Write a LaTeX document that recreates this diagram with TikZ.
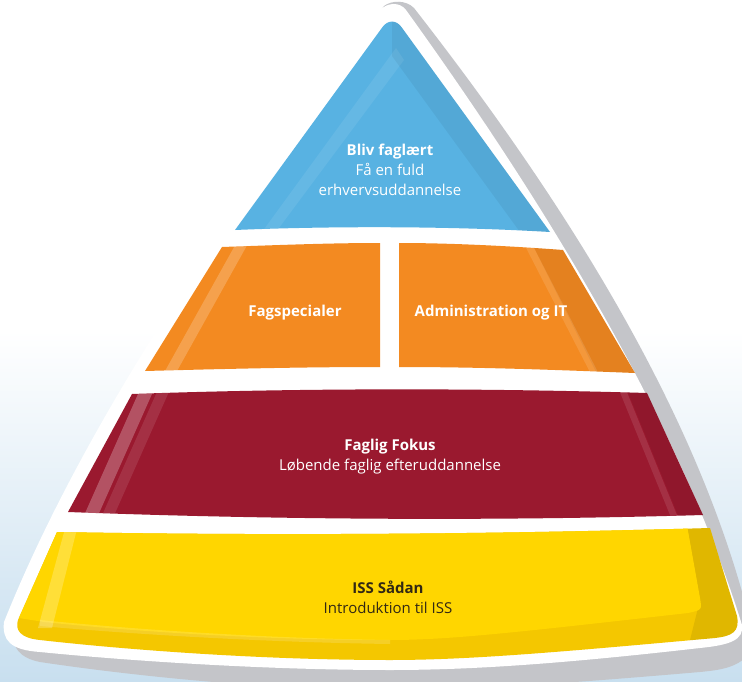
\documentclass[tikz,border=0pt]{standalone}
\usepackage{fontspec}
\setmainfont{Open Sans}
\definecolor{bgblue}{RGB}{200,223,239}
\definecolor{shadowgray}{RGB}{196,197,201}
\definecolor{tblue}{RGB}{88,178,226}
\definecolor{torange}{RGB}{243,138,33}
\definecolor{tred}{RGB}{154,25,47}
\definecolor{tyellow}{RGB}{255,214,0}
\definecolor{tyellowd}{RGB}{244,199,0}
\definecolor{ttext}{RGB}{50,40,20}
\begin{document}
\begin{tikzpicture}[x=1pt,y=-1pt,
  lbl/.style={align=center, font=\fontsize{15}{20}\selectfont, text=white, inner sep=0pt},
  lbldark/.style={lbl, text=ttext},
  shine/.style={white, opacity=0.2},
  shade dark/.style={black, opacity=0.06}]
\useasboundingbox (0,0) rectangle (742,682);
% background
\fill[white] (0,0) rectangle (742,682);
\shade[top color=white, bottom color=bgblue] (0,330) rectangle (742,682);
% gray shadow body
\fill[shadowgray] (384,6) .. controls (392,0) and (406,0) .. (414,8)
  .. controls (570,208) and (702,420) .. (752,630)
  -- (752,650) .. controls (740,668) and (720,670) .. (700,672)
  .. controls (560,684) and (470,690) .. (390,690)
  .. controls (260,690) and (120,674) .. (40,662)
  .. controls (20,658) and (12,648) .. (12,630)
  .. controls (92,425) and (238,212) .. (384,6) -- cycle;
% white body
\fill[white] (380,10) .. controls (388,2) and (400,2) .. (406,10)
  .. controls (550,210) and (680,425) .. (742,625)
  .. controls (744,640) and (730,645) .. (700,648)
  .. controls (560,664) and (470,670) .. (390,670)
  .. controls (260,670) and (120,660) .. (40,652)
  .. controls (10,650) and (2,640) .. (4,622)
  .. controls (84,422) and (230,210) .. (380,10) -- cycle;
% ---- blue top
\path[fill=tblue] (235,230) [rounded corners=16pt] -- (392,14) [sharp corners] -- (550,232)
  .. controls (450,226) and (330,226) .. (235,230) -- cycle;
\begin{scope}
 \clip (235,230) [rounded corners=16pt] -- (392,14) [sharp corners] -- (550,232)
  .. controls (450,226) and (330,226) .. (235,230) -- cycle;
 \fill[white, opacity=0.08] (262,232) -- (396,48) -- (404,60) -- (276,232) -- cycle;
 \fill[black, opacity=0.05] (392,0) -- (560,232) -- (520,232) -- (392,56) -- cycle;
\end{scope}
% ---- orange left
\fill[torange] (222,247) .. controls (280,245) and (330,243) .. (380,243)
  -- (380,367) .. controls (300,367) and (220,369) .. (145,371) -- cycle;
\begin{scope}
 \clip (222,247) .. controls (280,245) and (330,243) .. (380,243)
  -- (380,367) .. controls (300,367) and (220,369) .. (145,371) -- cycle;
 \fill[shine] (238,240) -- (250,240) -- (172,380) -- (160,380) -- cycle;
\end{scope}
% ---- orange right
\fill[torange] (399,243) .. controls (450,243) and (510,246) .. (563,250)
  -- (635,373) .. controls (560,370) and (480,367) .. (399,367) -- cycle;
\begin{scope}
 \clip (399,243) .. controls (450,243) and (510,246) .. (563,250)
  -- (635,373) .. controls (560,370) and (480,367) .. (399,367) -- cycle;
 \fill[shade dark] (530,240) -- (580,240) -- (660,380) -- (600,380) -- cycle;
 \fill[white, opacity=0.12] (522,240) -- (530,240) -- (602,380) -- (594,380) -- cycle;
\end{scope}
% ---- red
\fill[tred] (132,394) .. controls (300,388) and (480,388) .. (647,393)
  -- (703,515) .. controls (500,521) and (280,520) .. (68,512) -- cycle;
\begin{scope}
 \clip (132,394) .. controls (300,388) and (480,388) .. (647,393)
  -- (703,515) .. controls (500,521) and (280,520) .. (68,512) -- cycle;
 \fill[white, opacity=0.25] (142,385) -- (156,385) -- (96,520) -- (82,520) -- cycle;
 \fill[white, opacity=0.1] (160,385) -- (172,385) -- (112,520) -- (100,520) -- cycle;
 \fill[shade dark] (625,385) -- (660,385) -- (720,520) -- (680,520) -- cycle;
 \fill[white, opacity=0.1] (617,385) -- (624,385) -- (679,520) -- (672,520) -- cycle;
\end{scope}
% ---- yellow
\fill[tyellowd] (57,532) .. controls (280,536) and (500,534) .. (710,528)
  -- (737,616) .. controls (740,632) and (732,636) .. (715,638)
  .. controls (560,652) and (470,660) .. (390,660)
  .. controls (250,660) and (110,648) .. (40,640)
  .. controls (20,638) and (15,630) .. (18,620) -- cycle;
\begin{scope}
 \clip (57,532) .. controls (280,536) and (500,534) .. (710,528)
  -- (737,616) .. controls (740,632) and (732,636) .. (715,638)
  .. controls (560,652) and (470,660) .. (390,660)
  .. controls (250,660) and (110,648) .. (40,640)
  .. controls (20,638) and (15,630) .. (18,620) -- cycle;
 \fill[black, opacity=0.08] (686,520) -- (750,520) -- (750,650) -- (690,640) -- (700,600) -- cycle;
 \fill[tyellow] (40,520) -- (686,520) -- (700,598) .. controls (702,610) .. (688,613)
  .. controls (520,632) and (450,640) .. (390,640)
  .. controls (250,640) and (120,630) .. (44,622) -- (0,615) -- cycle;
 \fill[white, opacity=0.22] (66,525) -- (78,525) -- (52,628) -- (38,628) -- cycle;
 \fill[white, opacity=0.15] (40,620) .. controls (120,628) and (250,638) .. (390,640)
  -- (390,644) .. controls (250,642) and (120,633) .. (40,626) -- cycle;
\end{scope}
% ---- labels
\node[lbl] (tBlue) at (390,170) {\textbf{Bliv faglært}\\Få en fuld\\erhvervsuddannelse};
\node[lbl] (tFag) at (295,313) {\textbf{Fagspecialer}};
\node[lbl] (tAdm) at (491,313) {\textbf{Administration og IT}};
\node[lbl] (tRed) at (390,457) {\textbf{Faglig Fokus}\\Løbende faglig efteruddannelse};
\node[lbldark] (tYellow) at (388,597) {\textbf{ISS Sådan}\\Introduktion til ISS};
\end{tikzpicture}
\end{document}
